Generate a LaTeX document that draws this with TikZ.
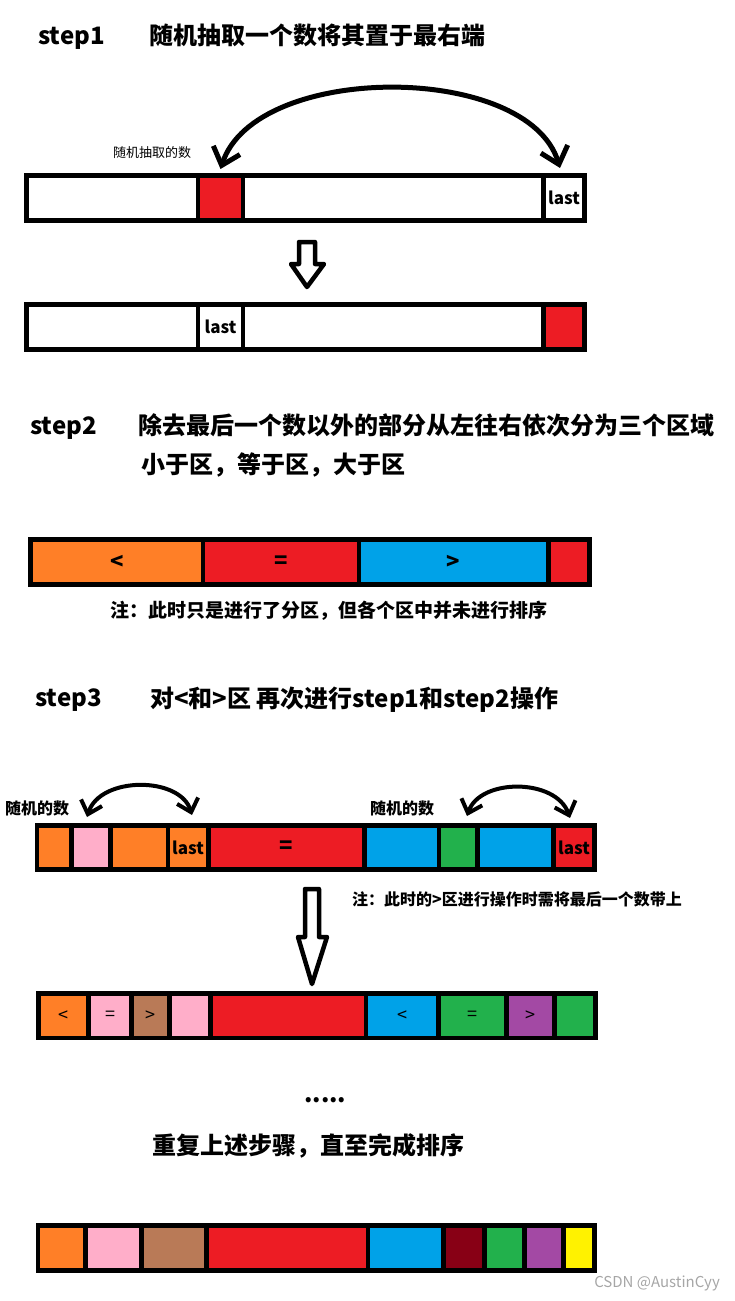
\documentclass[tikz,border=0pt]{standalone}
\usepackage{fontspec}
\setmainfont{Noto Sans CJK SC}
\usetikzlibrary{arrows.meta}

% Paint colours
\definecolor{paintorange}{HTML}{FF7F27}
\definecolor{paintpink}{HTML}{FFAEC9}
\definecolor{paintbrown}{HTML}{B97A57}
\definecolor{paintred}{HTML}{ED1C24}
\definecolor{paintblue}{HTML}{00A2E8}
\definecolor{paintgreen}{HTML}{22B14C}
\definecolor{paintpurple}{HTML}{A349A4}
\definecolor{paintdarkred}{HTML}{880015}
\definecolor{paintyellow}{HTML}{FFF200}

% black frame of a bar: left, top, right, bottom
\newcommand{\barframe}[4]{\fill[black] (#1,#2) rectangle (#3,#4);}

% one cell of a bar: [style] name, left, right, colour, label
\newcommand{\barcell}[6][]{%
  \node[cellbox, fill=#5, #1,
        minimum width={(#4-#3)*1pt},
        minimum height={(\yb-\ya)*1pt}]
    (#2) at ({(#3+#4)/2},{(\ya+\yb)/2}) {#6};}

\begin{document}
\begin{tikzpicture}[
    x=1pt, y=-1pt,
    >={Straight Barb[length=16pt,width=28pt]},
    every node/.style={inner sep=0pt},
    headtxt/.style={anchor=base west, font=\bfseries\fontsize{24}{28}\selectfont},
    labeltxt/.style={anchor=base west, font=\fontsize{13}{15}\selectfont},
    picktxt/.style={anchor=base west, font=\bfseries\fontsize{16}{18}\selectfont},
    notetxt/.style={anchor=base west, font=\bfseries\fontsize{19}{22}\selectfont},
    cellbox/.style={draw=none, outer sep=0pt, anchor=center,
        font=\bfseries\fontsize{17}{20}\selectfont},
    bigtxt/.style={font=\bfseries\fontsize{22}{24}\selectfont},
    smalltxt/.style={font=\fontsize{18}{20}\selectfont},
    swaparc/.style={<->, line width=5pt},
    smallarc/.style={<->, line width=4pt,
        >={Straight Barb[length=12pt,width=22pt]}},
    blockarrow/.style={line width=4.5pt, line join=round, fill=white}
]

\useasboundingbox (0,0) rectangle (735,1301);

% ============================================================
% step1
% ============================================================

\node[headtxt] (s1) at (38,44) {step1};
\node[headtxt] (s1txt) at (149,44) {随机抽取一个数将其置于最右端};
\node[labeltxt] (pick) at (113,157) {随机抽取的数};

% Array vorher
\def\ya{178}\def\yb{218}
\barframe{24}{173}{587}{223}
\barcell{b1a}{29}{196}{white}{}
\barcell{b1b}{200}{241}{paintred}{}
\barcell{b1c}{245}{541}{white}{}
\barcell{b1d}{546}{582}{white}{last}

% Tausch
\draw[swaparc]
    ([xshift=-4pt,yshift=10pt]b1d.north)
    .. controls +(-32,-106) and +(35,-107) ..
    ([yshift=9pt]b1b.north);

% Pfeil nach unten
\draw[blockarrow]
    (299,242) -- (315,242) -- (315,264) -- (324,264)
    -- (307,287) -- (291,264) -- (299,264) -- cycle;

% Array nachher
\def\ya{307}\def\yb{347}
\barframe{24}{302}{587}{352}
\barcell{b2a}{29}{196}{white}{}
\barcell{b2b}{200}{241}{white}{last}
\barcell{b2c}{245}{541}{white}{}
\barcell{b2d}{546}{582}{paintred}{}

% ============================================================
% step2
% ============================================================

\node[headtxt] (s2) at (30,434) {step2};
\node[headtxt] (s2txt) at (138,434)
    {除去最后一个数以外的部分从左往右依次分为三个区域};
\node[headtxt] (s2txtb) at (141,473) {小于区，等于区，大于区};

\def\ya{542}\def\yb{582}
\barframe{28}{537}{592}{587}
\barcell[bigtxt]{b3a}{33}{201}{paintorange}{<}
\barcell[bigtxt]{b3b}{205}{357}{paintred}{=}
\barcell[bigtxt]{b3c}{361}{546}{paintblue}{>}
\barcell{b3d}{551}{587}{paintred}{}

\node[notetxt] (note1) at (110,617)
    {注：此时只是进行了分区，但各个区中并未进行排序};

% ============================================================
% step3
% ============================================================

\node[headtxt] (s3) at (35,706) {step3};
\node[headtxt] (s3txt) at (150,707) {对<和>区 再次进行step1和step2操作};

\node[picktxt] (pickl) at (5,814) {随机的数};
\node[picktxt] (pickr) at (370,814) {随机的数};

\def\ya{828}\def\yb{867}
\barframe{35}{823}{597}{872}
\barcell{b4a}{39}{69}{paintorange}{}
\barcell{b4b}{74}{108}{paintpink}{}
\barcell{b4c}{113}{166}{paintorange}{}
\barcell{b4d}{170}{206}{paintorange}{last}
\barcell[bigtxt]{b4e}{211}{362}{paintred}{=}
\barcell{b4f}{367}{437}{paintblue}{}
\barcell{b4g}{441}{475}{paintgreen}{}
\barcell{b4h}{480}{551}{paintblue}{}
\barcell{b4i}{556}{592}{paintred}{last}

% kleine Tausche
\draw[smallarc]
    ([xshift=-4pt,yshift=11pt]b4b.north)
    .. controls +(13,-41) and +(-12,-39) ..
    ([xshift=4pt,yshift=13pt]b4d.north);
\draw[smallarc]
    ([xshift=9pt,yshift=12pt]b4g.north)
    .. controls +(13,-38) and +(-14,-40) ..
    ([xshift=-4pt,yshift=10pt]b4i.north);

\draw[blockarrow]
    (305,889) -- (319,889) -- (319,937) -- (327,937)
    -- (312,984) -- (298,937) -- (305,937) -- cycle;

\node[picktxt] (note2) at (352,905) {注：此时的>区进行操作时需将最后一个数带上};

\def\ya{996}\def\yb{1036}
\barframe{36}{991}{598}{1040}
\barcell[smalltxt]{b5a}{41}{86}{paintorange}{<}
\barcell[smalltxt]{b5b}{91}{129}{paintpink}{=}
\barcell[smalltxt]{b5c}{134}{167}{paintbrown}{>}
\barcell{b5d}{172}{208}{paintpink}{}
\barcell{b5e}{213}{364}{paintred}{}
\barcell[smalltxt]{b5f}{368}{436}{paintblue}{<}
\barcell[smalltxt]{b5g}{441}{504}{paintgreen}{=}
\barcell[smalltxt]{b5h}{509}{552}{paintpurple}{>}
\barcell{b5i}{557}{593}{paintgreen}{}

% ============================================================
% Ende
% ============================================================

\node[headtxt] (dots) at (304,1102) {.....};
\node[headtxt] (s4txt) at (152,1154) {重复上述步骤，直至完成排序};

\def\ya{1228}\def\yb{1268}
\barframe{36}{1223}{597}{1273}
\barcell{b6a}{40}{83}{paintorange}{}
\barcell{b6b}{88}{139}{paintpink}{}
\barcell{b6c}{144}{204}{paintbrown}{}
\barcell{b6d}{209}{366}{paintred}{}
\barcell{b6e}{370}{441}{paintblue}{}
\barcell{b6f}{446}{482}{paintdarkred}{}
\barcell{b6g}{487}{522}{paintgreen}{}
\barcell{b6h}{527}{561}{paintpurple}{}
\barcell{b6i}{566}{592}{paintyellow}{}

\node[anchor=base east, text=gray!70, font=\fontsize{15}{17}\selectfont]
    (mark) at (720,1287) {CSDN @AustinCyy};

\end{tikzpicture}
\end{document}
